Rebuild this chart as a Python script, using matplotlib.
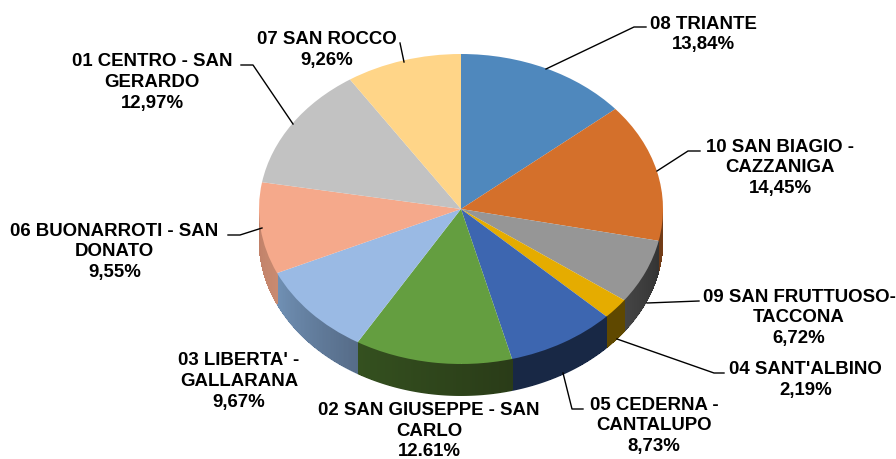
import matplotlib
matplotlib.use("Agg")
import matplotlib.pyplot as plt
from matplotlib.collections import PolyCollection
from matplotlib.colors import to_rgb
import numpy as np

# clockwise from 12 o'clock
names = ["08 TRIANTE", "10 SAN BIAGIO -\nCAZZANIGA", "09 SAN FRUTTUOSO-\nTACCONA",
         "04 SANT'ALBINO", "05 CEDERNA -\nCANTALUPO", "02 SAN GIUSEPPE - SAN\nCARLO",
         "03 LIBERTA' -\nGALLARANA", "06 BUONARROTI - SAN\nDONATO",
         "01 CENTRO - SAN\nGERARDO", "07 SAN ROCCO"]
values = [13.84, 14.45, 6.72, 2.19, 8.73, 12.61, 9.67, 9.55, 12.97, 9.26]
value_labels = ["13,84%", "14,45%", "6,72%", "2,19%", "8,73%", "12.61%", "9,67%", "9,55%", "12,97%", "9,26%"]

top_colors = ["#4F88BD", "#D4702B", "#969696", "#E5AC00", "#3D66B0",
              "#649E40", "#9ABAE4", "#F5A98B", "#C2C2C2", "#FFD588"]
side_start = ["#3A638A", "#7A3F18", "#333333", "#5F4800", "#182845",
              "#2A3C18", "#566C88", "#C88A70", "#777777", "#998050"]
side_end = ["#3A638A", "#6E3A16", "#444444", "#5F4800", "#182845",
            "#34501F", "#7090B4", "#C08068", "#777777", "#998050"]

# pixel layout of the picture
W, H = 896, 459
CX, CY, RX, RY, DEPTH = 461, 209, 202, 155, 32

label_pos = [(703, 34.5), (780, 168), (799, 318), (805.5, 380), (654, 426),
             (429, 431), (239, 381.5), (114.5, 252), (152, 82.5), (327, 50)]
leaders = [[(546, 69), (634, 27), (646, 27)],
           [(657, 171), (688, 151), (700, 151)],
           [(647, 303), (699, 301)],
           [(617, 339), (714, 373), (724, 373)],
           [(563, 373), (572, 409), (583, 409)],
           [(228, 235), (240, 235), (262, 228)],
           [(241, 65), (253, 65), (293, 124)],
           [(400, 43), (404, 62)]]

plt.rcParams['font.family'] = ['Liberation Sans', 'DejaVu Sans']

fig = plt.figure(figsize=(W / 100, H / 100), dpi=100)

# pie axes: unit circle stretched to the ellipse
ax = fig.add_axes([0, 0, 1, 1])
ax.pie(values, colors=top_colors, startangle=90, counterclock=False, radius=1,
       wedgeprops={'linewidth': 0, 'zorder': 3})
ax.set_aspect('auto')
ax.set_xlim(-CX / RX, (W - CX) / RX)
ax.set_ylim((CY - H) / RY, CY / RY)
ax.axis('off')

# rim of the pie, only the front half shows
depth = DEPTH / RY
inset = 1 / RY
edges = np.cumsum([0] + values) / sum(values) * 2 * np.pi
for i in range(len(values)):
    a = max(edges[i], np.pi / 2)
    b = min(edges[i + 1], 3 * np.pi / 2)
    if b <= a:
        continue
    th = np.linspace(a, b, 60)
    c0, c1 = np.array(to_rgb(side_start[i])), np.array(to_rgb(side_end[i]))
    # solid base keeps the bottom edge smooth, bands give the shading
    xs, ys = np.sin(th), np.cos(th)
    base = np.r_[np.c_[xs, ys], np.c_[xs, ys - depth][::-1]]
    ax.add_collection(PolyCollection([base], facecolors=[(c0 + c1) / 2], edgecolors='none', zorder=1))
    quads = []
    cols = []
    for j in range(len(th) - 1):
        quads.append([(xs[j], ys[j]), (xs[j + 1], ys[j + 1]),
                      (xs[j + 1], ys[j + 1] - depth + inset), (xs[j], ys[j] - depth + inset)])
        cols.append(c0 + (c1 - c0) * j / (len(th) - 2))
    ax.add_collection(PolyCollection(quads, facecolors=cols, edgecolors='none', antialiaseds=False, zorder=2))

# labels and leader lines in picture pixels
ax2 = fig.add_axes([0, 0, 1, 1])
ax2.set_xlim(0, W)
ax2.set_ylim(H, 0)
ax2.axis('off')
ax2.patch.set_alpha(0)

for name, val, (x, y) in zip(names, value_labels, label_pos):
    ax2.text(x, y, name + "\n" + val, ha='center', va='center', fontsize=13.4,
             fontweight='bold', color='black', linespacing=1.3)

for pts in leaders:
    ax2.plot([p[0] for p in pts], [p[1] for p in pts], color='black', lw=1.0)

fig.savefig("out.png", dpi=100)
